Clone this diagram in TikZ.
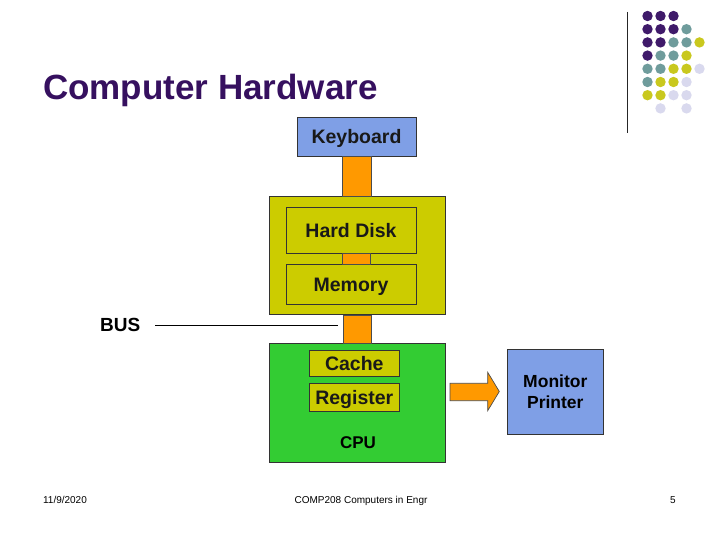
\documentclass[tikz,border=0pt]{standalone}
\usepackage{fontspec}
\setmainfont{Liberation Sans}
\definecolor{dpurple}{HTML}{3F1A6A}
\definecolor{titlepurple}{HTML}{36105F}
\definecolor{dteal}{HTML}{6F9C9C}
\definecolor{dolive}{HTML}{C9C81E}
\definecolor{dlav}{HTML}{D9D9EE}
\definecolor{kbblue}{HTML}{7F9FE6}
\definecolor{olivebox}{HTML}{CCCC00}
\definecolor{cpugreen}{HTML}{33CC33}
\definecolor{barorange}{HTML}{FF9900}
\tikzset{
  box/.style={draw=black!80, line width=0.8pt, inner sep=0pt},
  lbl/.style={font=\bfseries\fontsize{19.5}{23}\selectfont, text=black!90, text height=14pt, text depth=0pt},
  bar/.style={draw=black!70, line width=0.6pt, fill=barorange},
  foot/.style={font=\fontsize{10}{12}\selectfont, inner sep=0pt, anchor=base}
}
\begin{document}
\begin{tikzpicture}[x=1pt,y=-1pt]
\useasboundingbox (0,0) rectangle (720,540);
\fill[white] (0,0) rectangle (720,540);
% decoration: dot grid
\foreach \c/\r/\col in {0/0/dpurple,1/0/dpurple,2/0/dpurple,
  0/1/dpurple,1/1/dpurple,2/1/dpurple,3/1/dteal,
  0/2/dpurple,1/2/dpurple,2/2/dteal,3/2/dteal,4/2/dolive,
  0/3/dpurple,1/3/dteal,2/3/dteal,3/3/dolive,
  0/4/dteal,1/4/dteal,2/4/dolive,3/4/dolive,4/4/dlav,
  0/5/dteal,1/5/dolive,2/5/dolive,3/5/dlav,
  0/6/dolive,1/6/dolive,2/6/dlav,3/6/dlav,
  1/7/dlav,3/7/dlav}
  \fill[\col] ({647.5+13*\c},{16+13.2*\r}) circle (5.2);
\draw[black!85, line width=1pt] (627,12) -- (627,133);
% title
\node[anchor=base west, inner sep=0pt, text=titlepurple, font=\bfseries\fontsize{35}{40}\selectfont] (title) at (43,100) {Computer Hardware};
% boxes
\node[box, fill=kbblue, minimum width=119pt, minimum height=39pt, lbl] (kbd) at (356.5,136.5) {Keyboard};
\node[box, fill=olivebox, minimum width=176pt, minimum height=118pt] (ram) at (357.3,255.7) {};
\node[box, fill=cpugreen, minimum width=176pt, minimum height=118.7pt] (cpu) at (357.3,402.7) {};
% bars
\draw[bar] ([xshift=-14pt]kbd.south) rectangle ([xshift=14pt]ram.north);
\draw[bar] ([xshift=-14pt]ram.south) rectangle ([xshift=14pt]cpu.north);
\node[box, fill=olivebox, minimum width=130pt, minimum height=46pt, lbl] (hd) at (351,230.3) {Hard Disk};
\node[box, fill=olivebox, minimum width=130pt, minimum height=39.7pt, lbl] (mem) at (351,284.2) {Memory};
\draw[bar] ([xshift=-14pt]hd.south-|kbd.south) rectangle ([xshift=14pt]mem.north-|kbd.south);
\node[box, fill=olivebox, minimum width=90pt, minimum height=26.7pt, lbl] (cache) at (354.3,363.3) {Cache};
\node[box, fill=olivebox, minimum width=90pt, minimum height=27.7pt, lbl] (reg) at (354.3,397.2) {Register};
\node[font=\bfseries\fontsize{17}{20}\selectfont, inner sep=0pt] (cpulbl) at (358,443) {CPU};
% BUS
\node[font=\bfseries\fontsize{19}{22}\selectfont, inner sep=0pt, anchor=west] (bus) at (100,325) {BUS};
\coordinate (busend) at (338,325.5);
\draw[black, line width=0.8pt] (155,325.5) -- (busend);
% arrow
\draw[bar, line width=0.7pt] (450,383.3) -- (487.7,383.3) -- (487.7,372.3) -- (499.3,391.5) -- (487.7,410.7) -- (487.7,400.7) -- (450,400.7) -- cycle;
% monitor
\node[box, fill=kbblue, minimum width=96pt, minimum height=84.7pt, align=center, font=\bfseries\fontsize{17.5}{20.5}\selectfont] (mon) at (555.3,391.7) {Monitor\\Printer};
% footer
\node[foot] (date) at (65,503.5) {11/9/2020};
\node[foot] (course) at (361,503.5) {COMP208 Computers in Engr};
\node[foot] (page) at (673,503.5) {5};
\end{tikzpicture}
\end{document}
